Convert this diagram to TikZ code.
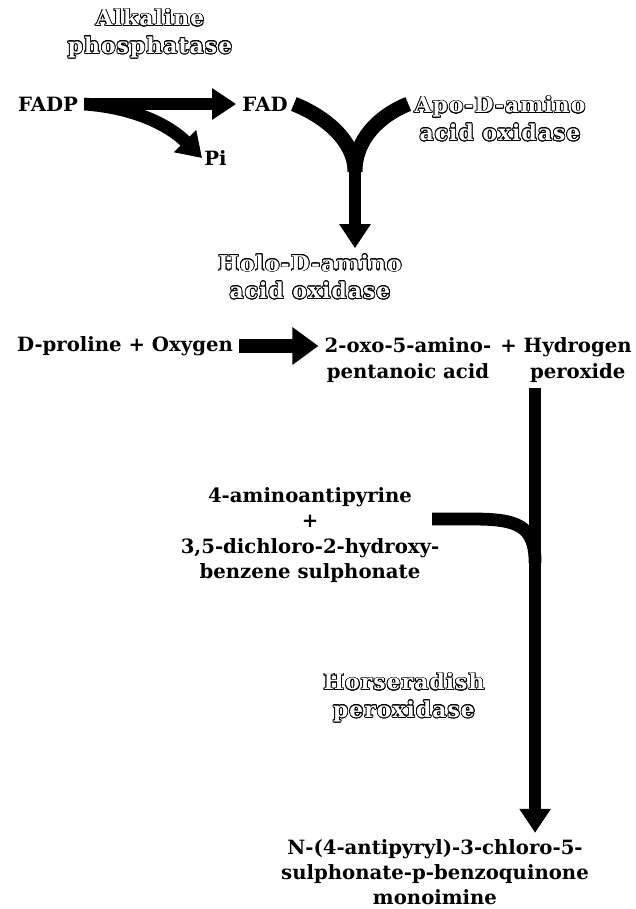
\documentclass[tikz,border=0pt]{standalone}
\usepackage{fontspec}
\setmainfont{DejaVu Serif}
\usepackage{contour}
\contourlength{0.6pt}
\usetikzlibrary{arrows.meta,positioning,calc}
\newcommand{\outl}[1]{{\color{white}\contour{black}{#1}}}

\begin{document}
\begin{tikzpicture}[x=0.025cm,y=-0.025cm]
        \tikzset{
            chem/.style={
                    font=\bfseries\fontsize{14}{18}\selectfont,
                    inner sep=0.15cm,
                    align=center
                },
            enzyme/.style={
                    font=\bfseries\fontsize{15.5}{19.5}\selectfont\addfontfeatures{LetterSpace=5},
                    inner sep=0.15cm,
                    align=center
                },
            flow/.style={line width=0.32cm},
            flowtip/.style={flow,-{Triangle[length=0.6cm,width=0.75cm]}}
        }
        \useasboundingbox (0,0) rectangle (636,909);
        % step 1: FADP -> FAD
        \node[enzyme] (alp) at (150,34) {\outl{Alkaline}\\\outl{phosphatase}};
        \node[chem] (fadp) at (48,104) {FADP};
        \node[chem] (fad) at (265,104) {FAD};
        \node[chem,anchor=west,inner sep=0.05cm] (pi) at (202,158) {Pi};
        \draw[flowtip] (fadp) -- (fad);
        \draw[flowtip] (fadp.east) .. controls +(55,4) and +(-30,-30) .. (pi.west);
        % step 2: holoenzyme
        \node[enzyme] (apo) at (500,119) {\outl{Apo-D-amino}\\\outl{acid oxidase}};
        \node[enzyme] (holo) at (310,277) {\outl{Holo-D-amino}\\\outl{acid oxidase}};
        \path (apo.west |- fad) coordinate (apoin) (355,172) coordinate (join);
        \draw[flow,line width=0.37cm] (fad.east) .. controls +(30,12) and +(0,-32) .. (join);
        \draw[flow,line width=0.37cm] (apoin) .. controls +(-30,12) and +(0,-32) .. (join);
        \draw[flowtip] ($(join)+(0,-4)$) -- (join |- holo.north);
        % step 3: oxidation of D-proline
        \node[chem] (pro) at (125,346) {D-proline + Oxygen};
        \node[chem] (oxo) at (408,360) {2-oxo-5-amino-\\pentanoic acid};
        \node[chem] (hp) at (566,360) {+ Hydrogen\\\phantom{+ }peroxide};
        \draw[flow,line width=0.36cm,-{Triangle[length=0.65cm,width=0.9cm]}] (pro.east) -- (pro.east -| oxo.west);
        % step 4: colour reaction
        \node[chem] (reag) at (310,535) {4-aminoantipyrine\\+\\3,5-dichloro-2-hydroxy-\\benzene sulphonate};
        \node[enzyme] (hrp) at (404,698) {\outl{Horseradish}\\\outl{peroxidase}};
        \node[chem] (prod) at (435,872) {N-(4-antipyryl)-3-chloro-5-\\sulphonate-p-benzoquinone\\monoimine};
        \path (hp.south west) ++(41,0) coordinate (h2o2);
        \path (h2o2 |- reag.center) ++(0,28) coordinate (merge);
        \path (reag.center) ++(122,-16) coordinate (reagout);
        \draw[flowtip] (h2o2) -- (h2o2 |- prod.north);
        \draw[flow] (reagout) -- ++(40,0) .. controls +(45,0) and +(0,-38) .. (merge);
    \end{tikzpicture}
\end{document}
